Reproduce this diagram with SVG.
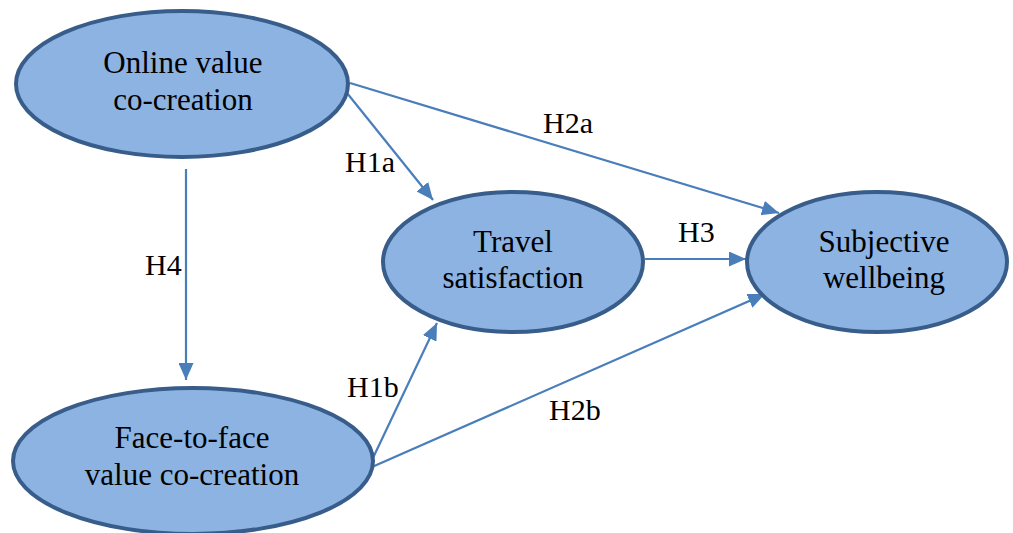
<svg xmlns="http://www.w3.org/2000/svg" width="1013" height="533" viewBox="0 0 1013 533">
<defs>
<marker id="arr" markerUnits="userSpaceOnUse" markerWidth="17" markerHeight="15" viewBox="0 0 17 15" refX="17" refY="7.5" orient="auto">
<path d="M0,0 L17,7.5 L0,15 Z" fill="#4a7ebb"/>
</marker>
</defs>
<style>
.node ellipse{fill:#8db3e2;stroke:#385d8a;stroke-width:4}
.node text{font-size:31px;fill:#000;text-anchor:middle}
.lbl{font-size:30px;fill:#000}
#connectors line{stroke:#4a7ebb;stroke-width:2.2;marker-end:url(#arr)}
</style>
<rect width="1013" height="533" fill="#fff"/>
<g id="connectors">
<line x1="347" y1="93" x2="433" y2="200"/>
<line x1="350" y1="83" x2="779" y2="213"/>
<line x1="186" y1="169" x2="186" y2="380"/>
<line x1="645" y1="259" x2="746" y2="259"/>
<line x1="372" y1="460" x2="437" y2="323"/>
<line x1="372" y1="467" x2="765" y2="294"/>
</g>
<g id="labels" font-family="Liberation Serif, Times New Roman, DejaVu Serif, serif">
<text class="lbl" x="543" y="133">H2a</text>
<text class="lbl" x="345" y="172">H1a</text>
<text class="lbl" x="145" y="275">H4</text>
<text class="lbl" x="678" y="242">H3</text>
<text class="lbl" x="347" y="397">H1b</text>
<text class="lbl" x="549" y="420">H2b</text>
</g>
<g id="online" class="node" font-family="Liberation Serif, Times New Roman, DejaVu Serif, serif">
<ellipse cx="182" cy="84" rx="166" ry="73"/>
<text x="183" y="73">Online value</text>
<text x="183" y="110">co-creation</text>
</g>
<g id="travel" class="node" font-family="Liberation Serif, Times New Roman, DejaVu Serif, serif">
<ellipse cx="513" cy="262" rx="130" ry="70"/>
<text x="513" y="252">Travel</text>
<text x="513" y="288">satisfaction</text>
</g>
<g id="subjective" class="node" font-family="Liberation Serif, Times New Roman, DejaVu Serif, serif">
<ellipse cx="877" cy="262" rx="130" ry="70"/>
<text x="884" y="252">Subjective</text>
<text x="884" y="288">wellbeing</text>
</g>
<g id="face" class="node" font-family="Liberation Serif, Times New Roman, DejaVu Serif, serif">
<ellipse cx="193" cy="461" rx="180" ry="73"/>
<text x="192" y="448">Face-to-face</text>
<text x="192" y="485">value co-creation</text>
</g>
</svg>
